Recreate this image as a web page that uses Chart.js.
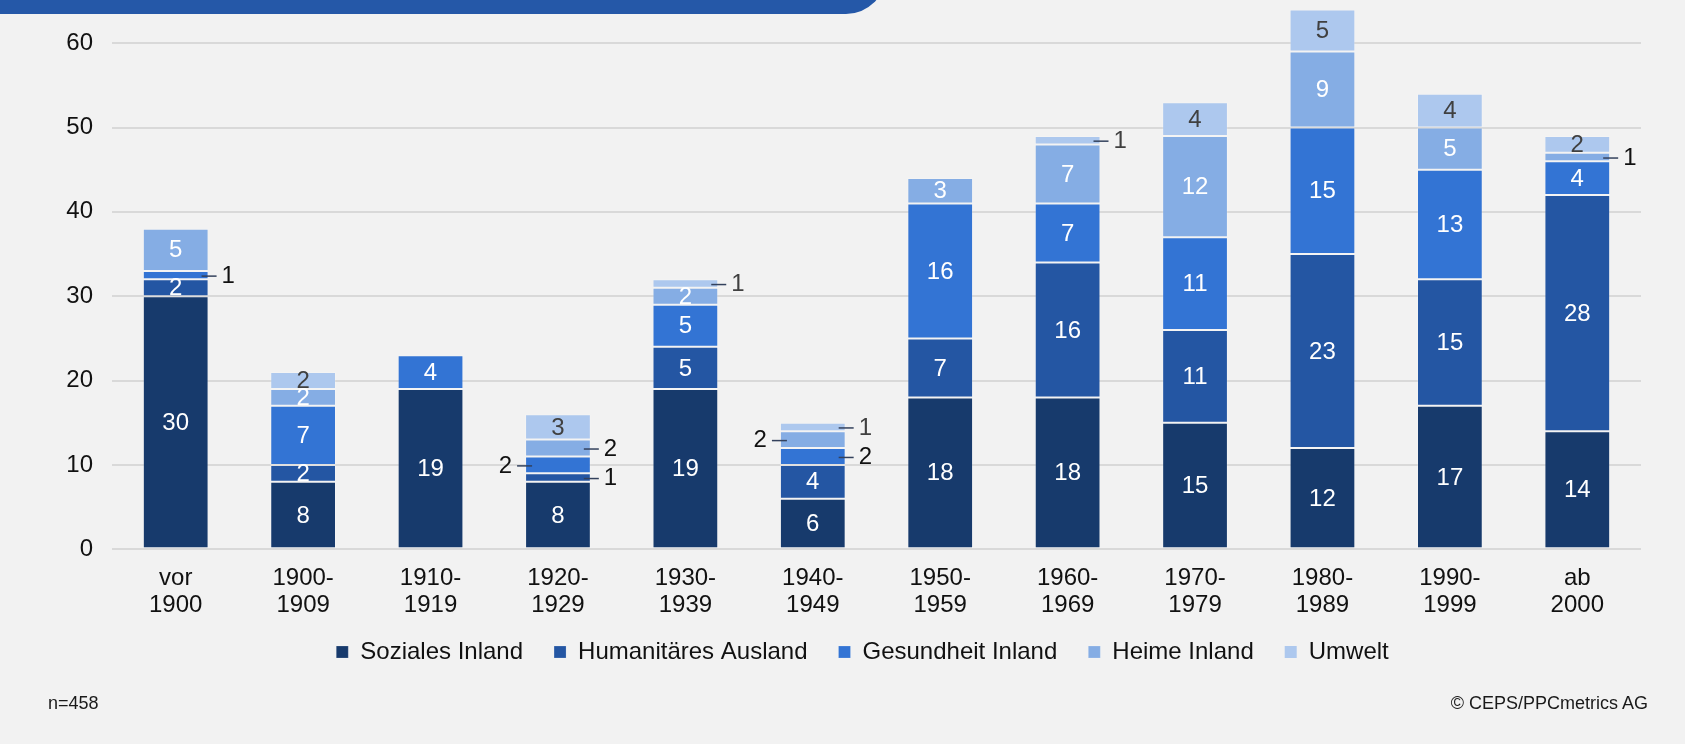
<!DOCTYPE html>
<html lang="de">
<head>
<meta charset="utf-8">
<title>Stiftungen nach Gründungsjahrzehnt</title>
<script src="https://cdn.jsdelivr.net/npm/chart.js@4"></script>
<style>
  html, body { margin: 0; padding: 0; background: #f2f2f2; }
  body { width: 1685px; height: 744px; position: relative; overflow: hidden;
         font-family: "Liberation Sans", Arial, sans-serif; }
  #wrap { position: absolute; left: 0; top: 0; width: 1685px; height: 744px; }
  .banner { position: absolute; left: 0; top: -40px; width: 886px; height: 54px;
            background: #2558a8; border-bottom-right-radius: 40px; z-index: 2; }
  .note { position: absolute; top: 693px; font-size: 18px; color: #1a1a1a; }
</style>
</head>
<body>
<div class="banner"></div>
<div id="wrap"><canvas id="stiftChart"></canvas></div>
<div class="note" style="left:48px">n=458</div>
<div class="note" style="right:37px">© CEPS/PPCmetrics AG</div>
<script>
// Kategorien (Gründungszeitraum)
const decades = [
  ["vor", "1900"], ["1900-", "1909"], ["1910-", "1919"], ["1920-", "1929"],
  ["1930-", "1939"], ["1940-", "1949"], ["1950-", "1959"], ["1960-", "1969"],
  ["1970-", "1979"], ["1980-", "1989"], ["1990-", "1999"], ["ab", "2000"],
];

// Anzahl pro Bereich
const sozialesInland = [30, 8, 19, 8, 19, 6, 18, 18, 15, 12, 17, 14];
const humanitaeresAusland = [2, 2, 0, 1, 5, 4, 7, 16, 11, 23, 15, 28];
const gesundheitInland = [1, 7, 4, 2, 5, 2, 16, 7, 11, 15, 13, 4];
const heimeInland = [5, 2, 0, 2, 2, 2, 3, 7, 12, 9, 5, 1];
const umwelt = [0, 2, 0, 3, 1, 1, 0, 1, 4, 5, 4, 2];

const yTicks = [0, 10, 20, 30, 40, 50, 60];

// labels that sit beside the bar: [dataset, category, side]
const outsideLabels = [
  [2, 0, "right"],
  [1, 3, "right"], [2, 3, "left"], [3, 3, "right"],
  [4, 4, "right"],
  [2, 5, "right"], [3, 5, "left"], [4, 5, "right"],
  [4, 7, "right"],
  [3, 11, "right"],
];

const FONT = "'Liberation Sans', Arial, sans-serif";

const segLabels = {
  id: "segLabels",
  afterLayout(chart) {
    // legend: a bit right of centre and closer to the axis labels
    const lg = chart.legend;
    lg.left += 42;
    lg.right += 42;
    lg.top -= 26;
    lg.bottom -= 26;
  },
  afterDatasetsDraw(chart) {
    const ctx = chart.ctx;
    ctx.save();
    ctx.font = "24px " + FONT;
    ctx.textBaseline = "middle";
    chart.data.datasets.forEach((ds, di) => {
      const meta = chart.getDatasetMeta(di);
      meta.data.forEach((bar, i) => {
        const v = ds.data[i];
        if (!v) return;
        const cy = (bar.y + bar.base) / 2 + 1;
        const out = outsideLabels.find((o) => o[0] === di && o[1] === i);
        if (out) {
          const half = bar.width / 2;
          ctx.strokeStyle = "#33415c";
          ctx.lineWidth = 1.5;
          ctx.fillStyle = di === 4 ? "#404040" : "#111";
          ctx.beginPath();
          if (out[2] === "right") {
            const e = bar.x + half;
            ctx.moveTo(e - 7, cy); ctx.lineTo(e + 8, cy);
            ctx.stroke();
            ctx.textAlign = "left";
            ctx.fillText(v, e + 13, cy);
          } else {
            const e = bar.x - half;
            ctx.moveTo(e - 8, cy); ctx.lineTo(e + 7, cy);
            ctx.stroke();
            ctx.textAlign = "right";
            ctx.fillText(v, e - 13, cy);
          }
        } else {
          ctx.fillStyle = di === 4 ? "#404040" : "#fff";
          ctx.textAlign = "center";
          ctx.fillText(v, bar.x, cy);
        }
      });
    });
    ctx.restore();
  },
};

const colors = ["#173a6c", "#2456a3", "#3374d4", "#85ade4", "#adc8ee"];

function mkSet(label, data, i) {
  return {
    label,
    data,
    backgroundColor: colors[i],
    borderColor: "rgba(255,255,255,0.18)",
    borderWidth: (c) => (c.raw ? 1 : 0),
    borderSkipped: false,
    barPercentage: 0.516,
    categoryPercentage: 1,
  };
}

Chart.defaults.font.family = FONT;
Chart.defaults.font.size = 24;
Chart.defaults.color = "#111";

new Chart(document.getElementById("stiftChart"), {
  type: "bar",
  data: {
    labels: decades,
    datasets: [
      mkSet("Soziales Inland", sozialesInland, 0),
      mkSet("Humanitäres Ausland", humanitaeresAusland, 1),
      mkSet("Gesundheit Inland", gesundheitInland, 2),
      mkSet("Heime Inland", heimeInland, 3),
      mkSet("Umwelt", umwelt, 4),
    ],
  },
  options: {
    responsive: true,
    maintainAspectRatio: false,
    animation: false,
    layout: { padding: { left: 0, right: 44, top: 1, bottom: 44 } },
    plugins: {
      tooltip: { enabled: false },
      legend: {
        position: "bottom",
        labels: { boxWidth: 12, boxHeight: 12, padding: 31, font: { size: 24 }, color: "#111" },
      },
    },
    scales: {
      x: {
        stacked: true,
        grid: { display: false, drawTicks: false },
        border: { display: false },
        ticks: { padding: 16, font: { size: 24, lineHeight: 1.12 }, maxRotation: 0 },
      },
      y: {
        stacked: true,
        min: 0,
        max: 65,
        afterBuildTicks: (s) => {
          s.ticks = yTicks.map((v) => ({ value: v }));
          s.min = 0;
          s.max = 65;
        },
        afterFit: (s) => {
          s.width = 112;
          s.paddingTop = 0;
          s.paddingBottom = 0;
        },
        grid: { color: "#d9d9d9", lineWidth: 2, drawTicks: false },
        border: { display: false },
        ticks: { padding: 19, font: { size: 24 } },
      },
    },
  },
  plugins: [segLabels],
});
</script>
</body>
</html>
